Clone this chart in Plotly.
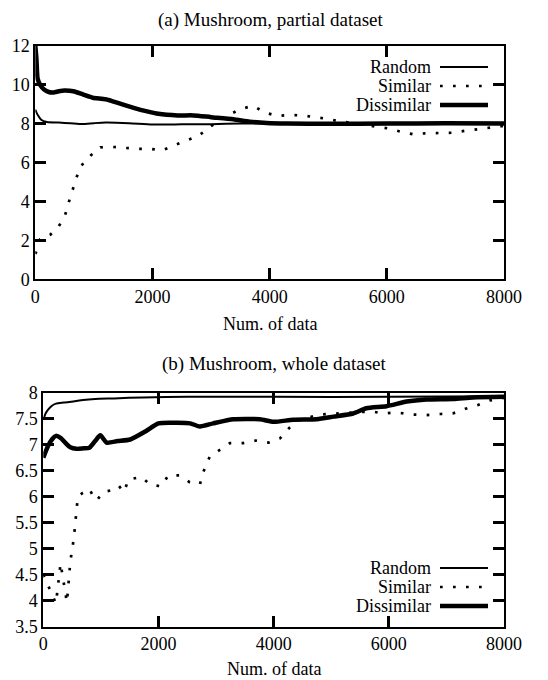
import plotly.graph_objects as go

# ---------------- data ----------------
x_ticks = [0, 2000, 4000, 6000, 8000]
x_tick_labels = ["0", "2000", "4000", "6000", "8000"]
top_y_ticks = [0, 2, 4, 6, 8, 10, 12]
top_y_labels = ["0", "2", "4", "6", "8", "10", "12"]
bot_y_ticks = [3.5, 4, 4.5, 5, 5.5, 6, 6.5, 7, 7.5, 8]
bot_y_labels = ["3.5", "4", "4.5", "5", "5.5", "6", "6.5", "7", "7.5", "8"]
series_names = ["Random", "Similar", "Dissimilar"]

# (a) partial dataset
top_random_x = [0, 40, 100, 200, 400, 600, 800, 1000, 1200, 1600, 2000, 2500, 3000, 3500, 4000, 5000, 6000, 7000, 8000]
top_random_y = [8.72, 8.45, 8.2, 8.08, 8.05, 8.02, 7.98, 8.02, 8.05, 8.02, 7.95, 7.96, 7.97, 8.0, 8.0, 7.99, 7.99, 7.99, 7.99]

top_similar_x = [0, 40, 80, 260, 400, 500, 560, 640, 700, 780, 950, 1110, 1310, 1530, 1750, 1960, 2170, 2370,
                 2580, 2780, 2950, 3130, 3310, 3510, 3720, 3900, 4120, 4330, 4550, 4760, 4970, 5170, 5370,
                 5600, 5830, 6030, 6240, 6450, 6650, 6880, 7110, 7320, 7540, 7750, 8000]
top_similar_y = [1.3, 1.6, 2.05, 2.3, 2.73, 3.2, 3.85, 4.63, 5.2, 5.82, 6.37, 6.78, 6.8, 6.75, 6.7, 6.7, 6.63, 6.88,
                 7.12, 7.36, 7.75, 8.15, 8.46, 8.75, 8.92, 8.59, 8.39, 8.44, 8.42, 8.35, 8.25, 8.13, 8.04,
                 7.97, 7.84, 7.75, 7.58, 7.45, 7.5, 7.5, 7.53, 7.62, 7.7, 7.79, 7.88]

top_dissimilar_x = [0, 20, 40, 90, 150, 230, 310, 400, 500, 650, 820, 980, 1200, 1460, 1680, 1890, 2100, 2430,
                    2700, 3000, 3380, 3660, 3950, 4300, 5000, 6000, 7000, 8000]
top_dissimilar_y = [12.0, 11.3, 10.3, 9.95, 9.75, 9.62, 9.6, 9.66, 9.7, 9.66, 9.49, 9.33, 9.25, 9.01, 8.81, 8.64,
                    8.5, 8.42, 8.42, 8.33, 8.22, 8.1, 8.03, 8.0, 7.99, 8.0, 8.01, 8.0]

# (b) whole dataset
bot_random_x = [0, 40, 80, 150, 220, 350, 520, 690, 900, 1230, 1730, 2500, 4000, 6000, 8000]
bot_random_y = [7.48, 7.6, 7.67, 7.75, 7.79, 7.81, 7.83, 7.86, 7.88, 7.89, 7.91, 7.92, 7.92, 7.92, 7.93]

bot_similar_x = [0, 220, 300, 410, 470, 530, 600, 680, 800, 880, 930, 1040, 1170, 1310, 1400, 1480, 1700, 1860,
                 2050, 2170, 2360, 2540, 2720, 2780, 2890, 3070, 3240, 3470, 3690, 3910, 4110, 4270, 4450,
                 4800, 5100, 5400, 5700, 5900, 6140, 6400, 6650, 6900, 7110, 7330, 7540, 7750, 8000]
bot_similar_y = [4.5, 3.95, 4.72, 3.97, 4.76, 5.2, 6.0, 6.07, 6.15, 5.98, 5.93, 6.09, 6.12, 6.21, 6.09, 6.33, 6.38,
                 6.23, 6.2, 6.41, 6.41, 6.28, 6.24, 6.48, 6.77, 6.91, 7.03, 7.03, 7.08, 7.04, 7.12, 7.32, 7.48,
                 7.58, 7.6, 7.62, 7.64, 7.6, 7.62, 7.58, 7.57, 7.59, 7.6, 7.69, 7.76, 7.85, 7.9]

bot_dissimilar_x = [0, 80, 150, 220, 300, 380, 470, 575, 700, 800, 900, 990, 1100, 1290, 1510, 1780, 2000, 2330,
                    2550, 2720, 2950, 3300, 3760, 4000, 4340, 4750, 5040, 5380, 5610, 5960, 6310, 6650, 7120,
                    7460, 8000]
bot_dissimilar_y = [6.75, 6.97, 7.1, 7.17, 7.13, 7.04, 6.95, 6.92, 6.93, 6.94, 7.07, 7.18, 7.04, 7.07, 7.1, 7.26,
                    7.41, 7.42, 7.41, 7.35, 7.41, 7.49, 7.49, 7.44, 7.48, 7.49, 7.54, 7.6, 7.7, 7.74, 7.83,
                    7.87, 7.88, 7.91, 7.92]

# ---------------- styling ----------------
W, H = 548, 680
OFF = 8  # page body margin offset compensation
FONT = "Liberation Serif"
FS = 18
FS_TITLE = 19
styles = {
    "Random": dict(color="black", width=2, dash="solid"),
    "Similar": dict(color="black", width=2.7, dash="2.7px,10.3px"),
    "Dissimilar": dict(color="black", width=4.5, dash="solid"),
}

def px(x):
    return (x - OFF) / W

def py(y):
    return 1 - (y - OFF) / H

fig = go.Figure()

panels = [
    ("x", "y", [(top_random_x, top_random_y), (top_similar_x, top_similar_y), (top_dissimilar_x, top_dissimilar_y)]),
    ("x2", "y2", [(bot_random_x, bot_random_y), (bot_similar_x, bot_similar_y), (bot_dissimilar_x, bot_dissimilar_y)]),
]
for xa, ya, data in panels:
    for name, (xs, ys) in zip(series_names, data):
        fig.add_trace(go.Scatter(
            x=xs, y=ys, mode="lines", name=name, xaxis=xa, yaxis=ya, showlegend=False,
            line=dict(color=styles[name]["color"], width=styles[name]["width"], dash=styles[name]["dash"],
                      shape="linear" if name == "Similar" else "spline", smoothing=0.6),
        ))

axis_common = dict(
    showline=True, linecolor="black", linewidth=2, mirror="ticks",
    ticks="inside", ticklen=11, tickwidth=2.5, tickcolor="black",
    showgrid=False, zeroline=False, automargin=False,
    tickfont=dict(family=FONT, size=FS, color="black"),
)

fig.update_layout(
    width=W, height=H,
    autosize=False,
    margin=dict(l=0, r=0, t=0, b=0, pad=0, autoexpand=False),
    paper_bgcolor="white", plot_bgcolor="white",
    showlegend=False,
    font=dict(family=FONT, size=FS, color="black"),
    xaxis=dict(domain=[px(35.3), px(504)], range=[0, 8000], tickvals=x_ticks, ticktext=x_tick_labels,
               anchor="y", **axis_common),
    yaxis=dict(domain=[py(279.3), py(45.7)], range=[0, 12], tickvals=top_y_ticks, ticktext=top_y_labels,
               anchor="x", **axis_common),
    xaxis2=dict(domain=[px(43.3), px(504)], range=[0, 8000], tickvals=x_ticks, ticktext=x_tick_labels,
                anchor="y2", **axis_common),
    yaxis2=dict(domain=[py(626.7), py(392.7)], range=[3.5, 8], tickvals=bot_y_ticks, ticktext=bot_y_labels,
                anchor="x2", **axis_common),
)

annotations = []
shapes = []

def text(x, y, s, anchor="center", size=FS, yanchor="middle", yabs=None):
    annotations.append(dict(x=px(x), y=py(y) if yabs is None else yabs, xref="paper", yref="paper", text=s,
                            showarrow=False, xanchor=anchor, yanchor=yanchor, borderpad=0,
                            font=dict(family=FONT, size=size, color="black")))

text(270, 0, "(a) Mushroom, partial dataset", size=FS_TITLE, yanchor="top", yabs=1.0)
text(270, 324, "Num. of data")
text(274, 364, "(b) Mushroom, whole dataset", size=FS_TITLE)
text(274, 669, "Num. of data")

for legend_top in (67, 568):
    for i, name in enumerate(series_names):
        yy = legend_top + i * 19
        text(432, yy, name, anchor="right")
        st = styles[name]
        shapes.append(dict(type="line", xref="paper", yref="paper", x0=px(440), x1=px(488),
                           y0=py(yy), y1=py(yy),
                           line=dict(color="black", width=st["width"], dash=st["dash"])))

fig.update_layout(annotations=annotations, shapes=shapes)
fig.write_html("out.html")
